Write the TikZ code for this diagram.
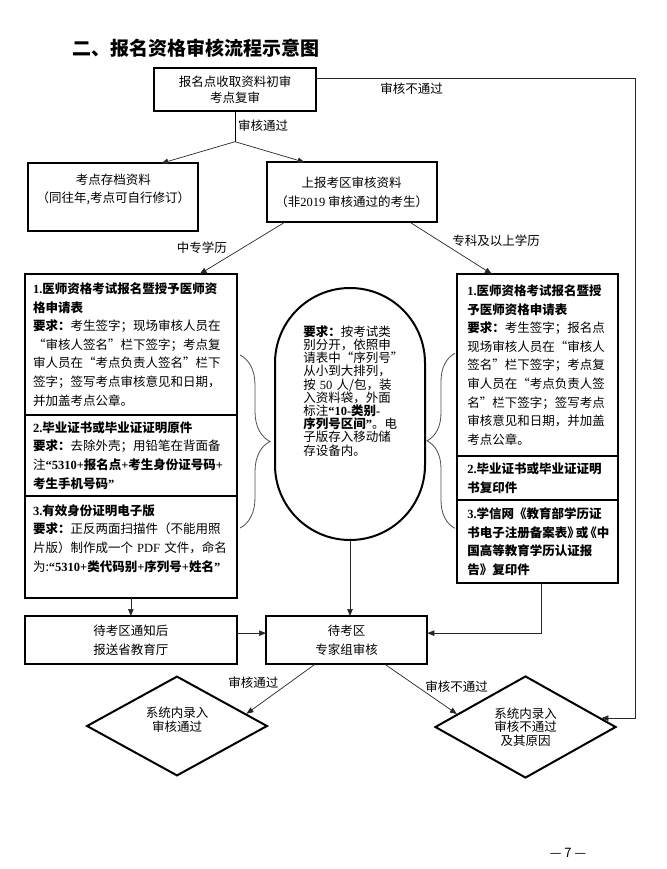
\documentclass[tikz,border=0pt]{standalone}
\usepackage{fontspec}
\setmainfont{Noto Sans CJK SC}
\newfontfamily\westfont{Liberation Serif}
\newcommand{\tnr}[1]{{\westfont #1}}
\usetikzlibrary{arrows.meta,positioning,calc,shapes.geometric,decorations.pathreplacing}

\begin{document}
\begin{tikzpicture}[x=1pt,y=-1pt,>={Triangle[length=7pt,width=5.5pt]},
box/.style={draw=black,line width=2pt,outer sep=0pt,align=center,font=\fontsize{12.5}{18.6}\selectfont},
colbox/.style={box,align=left,inner xsep=8pt,text width=195.7pt,minimum width=211.7pt},
rcolbox/.style={box,align=left,inner xsep=10pt,text width=141pt,minimum width=161pt},
pill/.style={draw=black,line width=2pt,rounded corners=75pt,minimum width=150pt,minimum height=252pt},
decision/.style={diamond,draw=black,line width=2pt,inner sep=0pt,align=center,font=\fontsize{12.5}{13.3}\selectfont},
flow/.style={->,line width=0.7pt,draw=black!85},
lab/.style={font=\fontsize{12.5}{13}\selectfont,inner sep=1pt},
curly/.style={decorate,decoration={brace,amplitude=#1},line width=0.8pt,draw=black!70}]
\useasboundingbox (0,0) rectangle (666,869);
\node[font=\bfseries\fontsize{19}{20}\selectfont] (title) at (196,48.3) {二、报名资格审核流程示意图};
% first check and the two routes
\node[box,font=\fontsize{12.5}{16}\selectfont,minimum width=161.7pt,minimum height=42.4pt] (check) at (235,89.5)
{报名点收取资料初审\\考点复审};
\node[box,font=\fontsize{12.5}{18}\selectfont,minimum width=170pt,minimum height=67.4pt] (archive) at (113.3,197)
{考点存档资料\\（同往年,考点可自行修订）\\\mbox{}};
\node[box,font=\fontsize{12.5}{19}\selectfont,minimum width=170pt,minimum height=60pt] (report) at (351.7,192.3)
{上报考区审核资料\\（非\tnr{2019} 审核通过的考生）};
% left column
\node[colbox,minimum height=141pt] (lform) at (130.85,344.5)
{\textbf{\tnr{1.}医师资格考试报名暨授予医师资}\\
\textbf{格申请表}\\
\textbf{要求：}考生签字；现场审核人员在\\
“审核人签名”栏下签字；考点复\\
审人员在“考点负责人签名”栏下\\
签字；签写考点审核意见和日期，\\
并加盖考点公章。};
\node[colbox,minimum height=81pt,below=0pt of lform] (ldiploma)
{\textbf{\tnr{2.}毕业证书或毕业证证明原件}\\
\textbf{要求：}去除外壳；用铅笔在背面备\\
注\textbf{\tnr{“5310+}报名点\tnr{+}考生身份证号码\tnr{+}}\\
\textbf{考生手机号码\tnr{”}}};
\node[colbox,minimum height=102.3pt,below=0pt of ldiploma] (lid)
{\textbf{\tnr{3.}有效身份证明电子版}\\
\textbf{要求：}正反两面扫描件（不能用照\\
片版）制作成一个 \tnr{PDF} 文件，命名\\
为:\textbf{\tnr{“5310+}类代码别\tnr{+}序列号\tnr{+}姓名\tnr{”}}\\
\mbox{}};
% right column
\node[rcolbox,minimum height=182pt] (rform) at (537.8,365)
{\textbf{\tnr{1.}医师资格考试报名暨授}\\
\textbf{予医师资格申请表}\\
\textbf{要求：}考生签字；报名点\\
现场审核人员在“审核人\\
签名”栏下签字；考点复\\
审人员在“考点负责人签\\
名”栏下签字；签写考点\\
审核意见和日期，并加盖\\
考点公章。};
\node[rcolbox,minimum height=44pt,below=0pt of rform] (rdiploma)
{\textbf{\tnr{2.}毕业证书或毕业证证明}\\
\textbf{书复印件}};
\node[rcolbox,minimum height=83.3pt,below=0pt of rdiploma] (rxuexin)
{\textbf{\tnr{3.}学信网《教育部学历证}\\
\textbf{书电子注册备案表》\kern-4pt或\kern-4pt《中}\\
\textbf{国高等教育学历认证报}\\
\textbf{告》复印件}};
% packing rule in the middle
\node[pill] (pack) at (350,414) {};
\node[font=\fontsize{12.5}{13.2}\selectfont,align=left,text width=90pt,inner sep=0pt] (packtext) at (348.3,390.8)
{\textbf{要求：}按考试类\\
别分开，依照申\\
请表中“序列号”\\
从小到大排列，\\
按 \tnr{50} 人/包，装\\
入资料袋，外面\\
标注\textbf{\tnr{“10-}类别\tnr{-}}\\
\textbf{序列号区间\tnr{”}}。电\\
子版存入移动储\\
存设备内。};
\coordinate (lbrtop) at (240,355);
\coordinate (lbrbot) at (240,528);
\coordinate (rbrbot) at (455,528.3);
\coordinate (rbrtop) at (455,353.3);
\draw[curly=30pt] (lbrtop) -- (lbrbot);
\draw[curly=28pt] (rbrbot) -- (rbrtop);
% expert review and results
\node[box,minimum width=211.7pt,minimum height=48.3pt,below=17.7pt of lid] (notify) {待考区通知后\\报送省教育厅};
\node[box,minimum width=161.3pt,minimum height=48.3pt,right=29.3pt of notify] (expert) {待考区\\专家组审核};
\node[decision,minimum width=180.7pt,minimum height=99pt] (pass) at (177,726) {系统内录入\\审核通过\\\mbox{}};
\node[decision,minimum width=181pt,minimum height=102pt] (fail) at (525.5,727) {系统内录入\\审核不通过\\及其原因};
\coordinate (passin) at ($(pass.east)!0.24!(pass.north)$);
\coordinate (failtop) at ($(fail.west)!0.25!(fail.north)$);
\coordinate (failin) at ($(fail.east)!0.17!(fail.north)$);
\node[font=\fontsize{13}{14}\selectfont] (pageno) at (568,853) {— 7 —};
% connectors
\draw[flow] ([yshift=-10pt]check.north east) -- ++(319,0) node[pos=0.3,below=3pt,lab] {审核不通过} |- (failin);
\draw (check.south) -- ++(0,31) node[midway,right=2pt,lab] {审核通过} coordinate (split);
\draw[flow] (split) -- ([xshift=-37pt]archive.north east);
\draw[flow] (split) -- ([xshift=38pt]report.north west);
\draw[flow] ([xshift=18pt]report.south west) -- ([xshift=-37pt]lform.north east) node[midway,left=14pt,lab] {中专学历};
\draw[flow] ([xshift=-26.7pt]report.south east) -- ([xshift=-46pt]rform.north) node[midway,right,yshift=7pt,lab] {专科及以上学历};
\draw[flow] (pack.south) -- (pack.south |- expert.north);
\draw[flow] (lid.south) -- (notify.north);
\draw[flow] ([yshift=7pt]notify.east) -- ([yshift=7pt]expert.west);
\draw[flow] ([xshift=4pt]rxuexin.south) |- ([yshift=7pt]expert.east);
\draw[flow] ([xshift=-31.7pt]expert.south) -- (passin) node[midway,left=1pt,yshift=6pt,lab] {审核通过};
\draw[flow] ([xshift=38.3pt]expert.south) -- (failtop) node[midway,right=3pt,yshift=2pt,lab] {审核不通过};
\end{tikzpicture}
\end{document}
